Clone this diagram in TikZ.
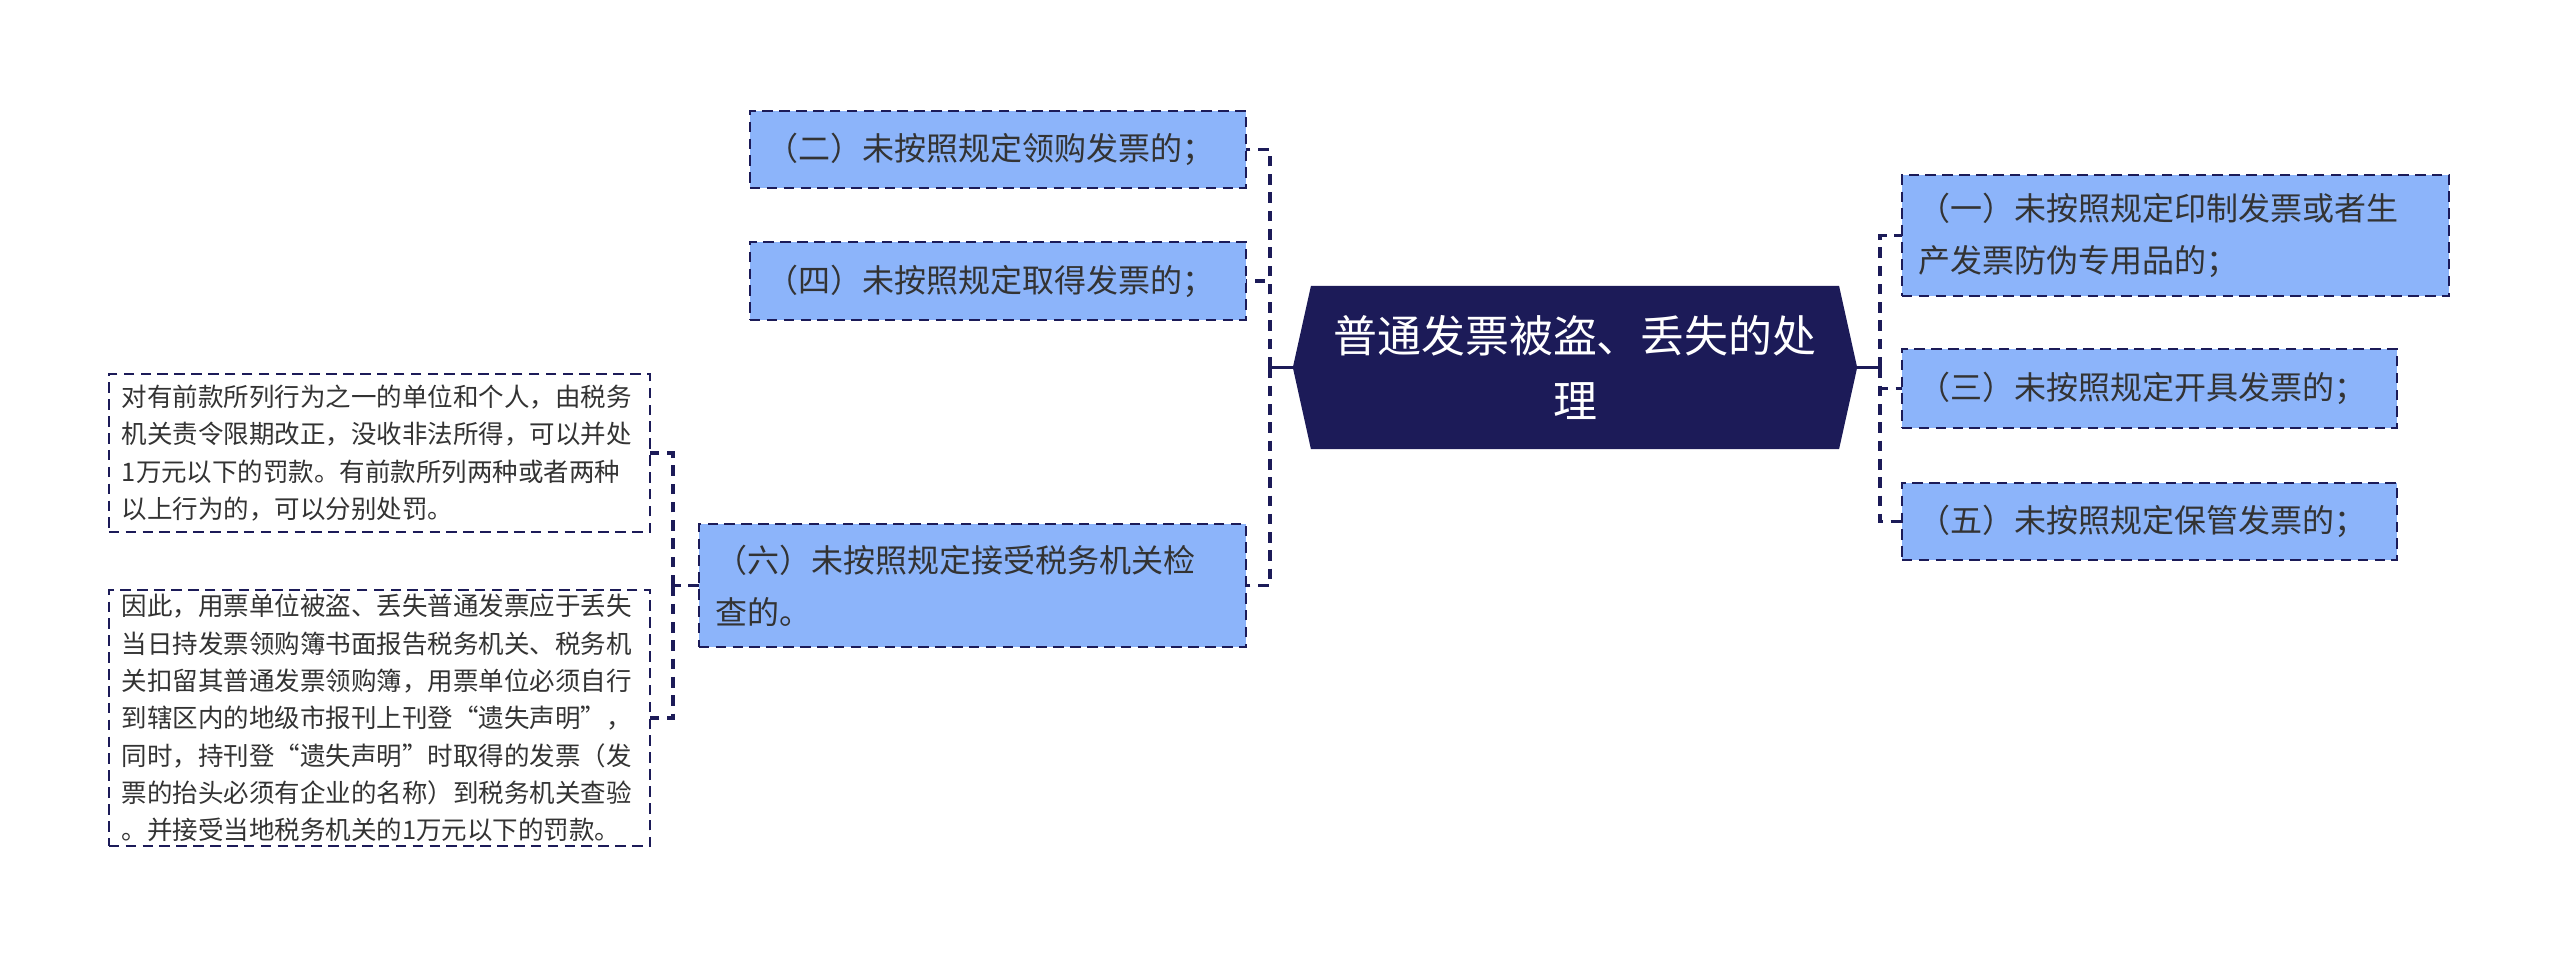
\documentclass[tikz,border=0pt]{standalone}
\usepackage{fontspec}
\setmainfont{Noto Sans CJK SC}
\usepackage{xcolor}
\usetikzlibrary{shapes.symbols}
\definecolor{navy}{HTML}{1C1B58}
\definecolor{boxblue}{HTML}{8CB4FA}
\definecolor{txtgray}{HTML}{333333}

\begin{document}
\begin{tikzpicture}[x=0.01cm, y=-0.01cm,
        every node/.style={inner ysep=0pt, outer sep=0pt},
        topic/.style={signal, signal to=west and east, signal pointer angle=155,
            fill=navy, text=white, align=center, inner xsep=0.1cm,
            minimum width=5.64cm, minimum height=1.63cm,
            font=\fontsize{12.5pt}{18.5pt}\selectfont},
        leaf/.style={draw=navy, dash pattern=on 3pt off 1.8pt, line width=0.6pt,
            fill=boxblue, text=txtgray, align=left, inner xsep=0.17cm,
            font=\fontsize{9.1pt}{14.8pt}\selectfont},
        note/.style={draw=navy, dash pattern=on 3pt off 1.8pt, line width=0.6pt,
            fill=white, text=txtgray, align=left, inner xsep=0.13cm,
            text width=5.15cm, minimum height=1.58cm,
            font=\fontsize{7.25pt}{10.6pt}\selectfont},
        link/.style={draw=navy, line width=0.9pt, dash pattern=on 3pt off 2.2pt},
    ]
    \useasboundingbox (0,0) rectangle (2560,956);

    \node[topic] (r) at (1575,367.5) {普通发票被盗、丢失的处\\理};

    \node[leaf, text width=4.62cm, minimum height=0.77cm] (l2) at (998,149.5) {（二）未按照规定领购发票的；};
    \node[leaf, text width=4.62cm, minimum height=0.78cm] (l4) at (998,281) {（四）未按照规定取得发票的；};
    \node[leaf, text width=5.13cm, minimum height=1.23cm] (l6) at (972.5,585.5) {（六）未按照规定接受税务机关检\\查的。};

    \node[note] (n1) at (379.5,453) {对有前款所列行为之一的单位和个人，由税务\\机关责令限期改正，没收非法所得，可以并处\\1万元以下的罚款。有前款所列两种或者两种\\以上行为的，可以分别处罚。};
    \node[note, minimum height=2.56cm] (n2) at (379.5,718) {因此，用票单位被盗、丢失普通发票应于丢失\\当日持发票领购簿书面报告税务机关、税务机\\关扣留其普通发票领购簿，用票单位必须自行\\到辖区内的地级市报刊上刊登“遗失声明”，\\同时，持刊登“遗失声明”时取得的发票（发\\票的抬头必须有企业的名称）到税务机关查验\\。并接受当地税务机关的1万元以下的罚款。};

    \node[leaf, text width=5.13cm, minimum height=1.21cm] (r1) at (2175.5,235.5) {（一）未按照规定印制发票或者生\\产发票防伪专用品的；};
    \node[leaf, text width=4.61cm, minimum height=0.79cm] (r3) at (2149.5,388.5) {（三）未按照规定开具发票的；};
    \node[leaf, text width=4.61cm, minimum height=0.77cm] (r5) at (2149.5,521.5) {（五）未按照规定保管发票的；};

    \coordinate (lj) at (1270,367.5);
    \coordinate (rj) at (1880,367.5);
    \coordinate (fj) at (673,585.5);

    \draw[link, solid] (r.west) -- (lj);
    \draw[link] (lj) |- (l2.east);
    \draw[link] (lj) |- (l4.east);
    \draw[link] (lj) |- (l6.east);

    \draw[link, solid] (r.east) -- (rj);
    \draw[link] (rj) |- (r1.west);
    \draw[link] (rj) |- (r3.west);
    \draw[link] (rj) |- (r5.west);

    \draw[link] (l6.west) -- (fj);
    \draw[link] (fj) |- (n1.east);
    \draw[link] (fj) |- (n2.east);
\end{tikzpicture}
\end{document}
